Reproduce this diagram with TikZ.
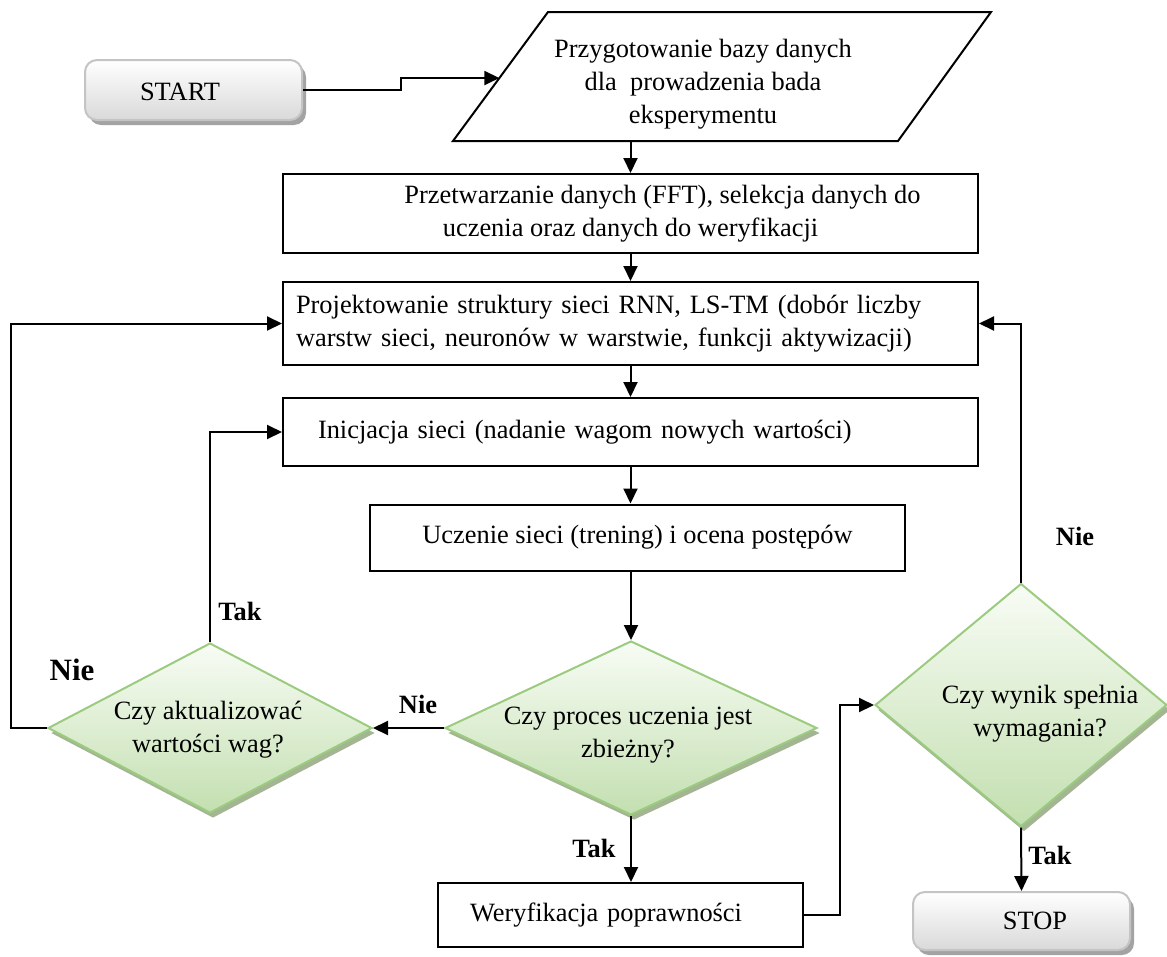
\documentclass[tikz,border=0pt]{standalone}
\usepackage{fontspec}
\setmainfont{Liberation Serif}
\usetikzlibrary{arrows.meta,shapes.geometric,shadows,calc}

\definecolor{dborder}{HTML}{9BCB7E}
\definecolor{dtop}{HTML}{F8FCF5}
\definecolor{dbottom}{HTML}{C3DFB0}
\definecolor{dshade}{HTML}{A3B593}
\definecolor{tborder}{HTML}{C4C4C4}
\definecolor{tbottom}{HTML}{D9D9D9}
\definecolor{tshade}{HTML}{A3A3A3}

\begin{document}
\begin{tikzpicture}[x=1pt,y=-1pt,
  font=\fontsize{26.4}{33}\selectfont,
  proc/.style={draw=black,line width=2pt,fill=white,inner sep=0pt,align=center},
  term/.style={draw=tborder,line width=2pt,rounded corners=12pt,
    top color=white,bottom color=tbottom,inner sep=0pt,
    drop shadow={shadow xshift=4pt,shadow yshift=-5pt,fill=tshade,opacity=1}},
  decision/.style={shape=diamond,draw=dborder,line width=2pt,inner sep=0pt,
    top color=dtop,bottom color=dbottom,
    drop shadow={shadow xshift=3pt,shadow yshift=-5pt,fill=dshade,opacity=1}},
  flow/.style={line width=2pt,-{Triangle[length=15pt,width=14pt]}},
  lbl/.style={font=\fontsize{26.4}{30}\selectfont\bfseries,inner sep=0pt},
  biglbl/.style={font=\fontsize{31}{36}\selectfont\bfseries,inner sep=0pt}]

\useasboundingbox (0,0) rectangle (1167,956);

% --- terminals ---
\node[term,minimum width=217pt,minimum height=60pt] (start) at (193.5,90) {};
\node[inner sep=0pt] (starttxt) at (180,92) {START};
\node[term,minimum width=217pt,minimum height=58pt] (stop) at (1021.5,921) {};
\node[inner sep=0pt] (stoptxt) at (1035,921) {STOP};

% --- input parallelogram ---
\coordinate (pbl) at (453,141);
\coordinate (pbr) at (898,141);
\coordinate (ptr) at (991,12);
\coordinate (ptl) at (548,12);
\draw[line width=2pt,fill=white] (pbl) -- (pbr) -- (ptr) -- (ptl) -- cycle;
\coordinate (pin) at ($(pbl)!0.488!(ptl)$);
\coordinate (pbot) at (630.5,141);
\node[align=center,inner sep=0pt] (ptxt) at (703,84)
  {Przygotowanie bazy danych\\dla~ prowadzenia bada\\eksperymentu};

% --- process boxes ---
\node[proc,minimum width=695pt,minimum height=79pt] (b2) at (630.5,213.5)
  {\hspace*{64pt}Przetwarzanie danych (FFT), selekcja danych do\\uczenia oraz danych do weryfikacji};
\node[proc,minimum width=695pt,minimum height=83pt,text width=669pt,align=left,inner xsep=13pt] (b3) at (630.5,323.5)
  {\makebox[669pt][s]{Projektowanie struktury sieci RNN, LS-TM (dobór liczby}\\warstw sieci, neuronów w warstwie, funkcji aktywizacji)};
\node[proc,minimum width=695pt,minimum height=68pt,text width=625pt,align=left,inner xsep=35pt] (b4) at (630.5,432)
  {Inicjacja sieci (nadanie wagom nowych wartości)};
\node[proc,minimum width=535pt,minimum height=66pt] (b5) at (637.5,537.5)
  {Uczenie sieci (trening) i ocena postępów};
\node[proc,minimum width=365pt,minimum height=64pt,text width=301pt,align=left,inner xsep=32pt] (b6) at (620.5,915)
  {Weryfikacja poprawności};

% --- decisions ---
\node[decision,minimum width=372pt,minimum height=174pt] (d1) at (631,728) {};
\node[align=center,inner sep=0pt] (d1txt) at (628,735) {Czy proces uczenia jest\\zbieżny?};
\node[decision,minimum width=324pt,minimum height=170pt] (d2) at (210,728) {};
\node[align=center,inner sep=0pt] (d2txt) at (208,730) {Czy aktualizować\\wartości wag?};
\node[decision,minimum width=292pt,minimum height=243pt] (d3) at (1021,705) {};
\node[align=center,inner sep=0pt] (d3txt) at (1040,714) {Czy wynik spełnia\\wymagania?};

% --- connectors ---
\draw[flow] (start.east) -- ++(98,0) |- (pin);
\draw[flow] (pbot) -- (b2.north);
\draw[flow] (b2.south) -- (b3.north);
\draw[flow] (b3.south) -- (b4.north);
\draw[flow] (b4.south) -- (b4.south |- b5.north);
\draw[flow] (b5.south -| d1.north) -- (d1.north);
\draw[flow] (d1.west) -- (d2.east);
\draw[flow] (d2.north) |- (b4.west);
\draw[flow] (d2.west) -- ++(-36,0) |- (b3.west);
\draw[flow] (d1.south) -- (d1.south |- b6.north);
\draw[flow] (b6.east) -- ++(36,0) |- (d3.west);
\draw[flow] (d3.north) |- (b3.east);
\draw[flow] (d3.south) -- (stop.north);

% --- branch labels ---
\node[lbl] (nie1) at (418,704) {Nie};
\node[lbl] (tak1) at (240,611) {Tak};
\node[biglbl] (nie2) at (72,670) {Nie};
\node[lbl] (tak2) at (594,848) {Tak};
\node[lbl] (nie3) at (1075,536) {Nie};
\node[lbl] (tak3) at (1050,855) {Tak};
\end{tikzpicture}
\end{document}
